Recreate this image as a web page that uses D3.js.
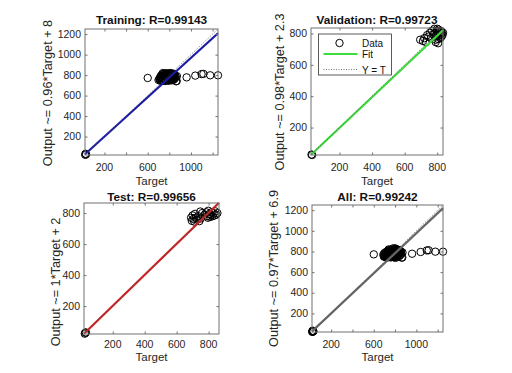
<!DOCTYPE html>
<html>
<head>
<meta charset="utf-8">
<script src="https://cdn.jsdelivr.net/npm/d3@7"></script>
<style>
  body { margin: 0; background: #fff; }
  svg { display: block; font-family: "Liberation Sans", Arial, sans-serif; }
</style>
</head>
<body>
<svg id="fig" width="512" height="373"></svg>
<script>
// panel texts and fit coefficients
var titles = ["Training: R=0.99143", "Validation: R=0.99723", "Test: R=0.99656", "All: R=0.99242"];
var yLabels = ["Output ~= 0.96*Target + 8", "Output ~= 0.98*Target + 2.3",
               "Output ~= 1*Target + 2", "Output ~= 0.97*Target + 6.9"];
var fitSlope = [0.96, 0.98, 1, 0.97];
var fitIntercept = [8, 2.3, 2, 6.9];
var limits = [[20, 1250], [25, 835], [20, 865], [20, 1250]];

// ticks
var bigTickLabelsX = [200, 600, 1000];
var bigTicks = [200, 400, 600, 800, 1000, 1200];
var smallTicks = [200, 400, 600, 800];

// training data (target, output)
var trainTarget = [22, 30, 25,
  712, 718, 720, 726, 731, 735, 740, 744, 748, 752, 755, 760, 763, 767, 771, 774, 778, 781, 785, 788,
  792, 795, 798, 802, 805, 808, 812, 815, 818, 821, 825, 828, 832, 835, 838, 842, 845, 848, 851, 855,
  724, 738, 746, 757, 769, 783, 796, 810, 823, 836, 716, 729, 750, 765, 790, 800, 817, 830, 843, 860,
  708, 862, 740, 775, 700, 868,
  600, 870, 960, 1040, 1098, 1115, 1178, 1250];
var trainOutput = [22, 26, 32,
  768, 745, 790, 758, 805, 775, 748, 792, 762, 815, 780, 742, 800, 768, 788, 752, 812, 775, 795, 745,
  765, 805, 782, 818, 755, 792, 770, 808, 748, 785, 800, 762, 815, 778, 795, 758, 810, 782, 768, 795,
  775, 765, 808, 795, 815, 760, 748, 820, 772, 755, 780, 742, 778, 785, 778, 795, 792, 785, 800, 780,
  760, 740, 820, 818, 752, 742,
  772, 790, 778, 795, 810, 812, 798, 798];

// validation data
var valTarget = [28, 32,
  695, 712, 720, 730, 738, 745, 755, 760, 768, 775, 782, 788, 792, 798, 803, 808, 812, 816,
  820, 824, 828, 832, 826, 818, 805, 790, 835, 810, 800, 805, 790];
var valOutput = [28, 25,
  760, 752, 770, 745, 790, 780, 805, 770, 818, 795, 830, 805, 785, 815, 800, 825, 790, 808,
  795, 815, 802, 790, 780, 770, 765, 760, 805, 812, 830, 738, 745];

// test data
var testTarget = [28, 25, 32,
  690, 695, 700, 705, 710, 715, 720, 728, 735, 742, 750, 748, 760,
  775, 785, 792, 798, 805, 812, 818, 825, 832, 840, 848, 855, 838, 810, 795];
var testOutput = [28, 22, 30,
  770, 750, 785, 762, 745, 795, 770, 758, 780, 748, 765, 810, 800,
  790, 805, 780, 815, 795, 788, 805, 780, 798, 812, 790, 800, 785, 775, 770];

function pairs(t, o) { return t.map(function (d, i) { return { t: d, o: o[i] }; }); }

var datasets = [
  pairs(trainTarget, trainOutput),
  pairs(valTarget, valOutput),
  pairs(testTarget, testOutput),
  pairs(trainTarget.concat(valTarget, testTarget), trainOutput.concat(valOutput, testOutput))
];

// layout per panel
var boxes = [
  { x0: 85, x1: 218, y0: 29, y1: 155, ylx: 48, yly: 93, row: 0 },
  { x0: 311, x1: 443, y0: 28, y1: 155, ylx: 280, yly: 92, row: 0 },
  { x0: 84, x1: 219, y0: 203, y1: 334, ylx: 55.5, yly: 282, row: 1 },
  { x0: 312, x1: 443, y0: 205, y1: 332, ylx: 274, yly: 268.5, row: 1 }
];
var fitColors = ["#1a1aa6", "#3ddc3d", "#cc2222", "#666666"];
var rowText = [
  { title: 23.5, tick: 171, xlab: 185 },
  { title: 200.5, tick: 347.5, xlab: 361 }
];

var svg = d3.select("#fig");

function drawPanel(i) {
  var b = boxes[i], lim = limits[i], rt = rowText[b.row],
      big = lim[1] > 1000;

  var x = d3.scaleLinear().domain(lim).range([b.x0, b.x1]),
      y = d3.scaleLinear().domain(lim).range([b.y1, b.y0]);

  var g = svg.append("g");

  // data circles
  g.selectAll("circle").data(datasets[i]).enter()
   .append("circle")
   .attr("cx", function (d) { return x(d.t); })
   .attr("cy", function (d) { return y(d.o); })
   .attr("r", 3.7)
   .attr("fill", "none")
   .attr("stroke", "#000")
   .attr("stroke-width", 1);

  // fit line
  g.append("line")
   .attr("x1", x(lim[0])).attr("y1", y(fitSlope[i] * lim[0] + fitIntercept[i]))
   .attr("x2", x(lim[1])).attr("y2", y(fitSlope[i] * lim[1] + fitIntercept[i]))
   .attr("stroke", fitColors[i])
   .attr("stroke-width", 2.2);

  // Y = T line
  g.append("line")
   .attr("x1", x(lim[0])).attr("y1", y(lim[0]))
   .attr("x2", x(lim[1])).attr("y2", y(lim[1]))
   .attr("stroke", "#555")
   .attr("stroke-width", 0.8)
   .attr("stroke-dasharray", "1,1.5");

  // box
  g.append("rect")
   .attr("x", b.x0).attr("y", b.y0)
   .attr("width", b.x1 - b.x0).attr("height", b.y1 - b.y0)
   .attr("fill", "none").attr("stroke", "#707070").attr("stroke-width", 1);

  var ticks = big ? bigTicks : smallTicks,
      xLabels = big ? bigTickLabelsX : smallTicks;

  // inward ticks on all four sides
  g.append("g").attr("transform", "translate(0," + b.y1 + ")").call(d3.axisBottom(x).tickValues(ticks).tickSize(-2.5).tickFormat(""));
  g.append("g").attr("transform", "translate(0," + b.y0 + ")").call(d3.axisTop(x).tickValues(ticks).tickSize(-2.5).tickFormat(""));
  g.append("g").attr("transform", "translate(" + b.x0 + ",0)").call(d3.axisLeft(y).tickValues(ticks).tickSize(-2.5).tickFormat(""));
  g.append("g").attr("transform", "translate(" + b.x1 + ",0)").call(d3.axisRight(y).tickValues(ticks).tickSize(-2.5).tickFormat(""));
  g.selectAll(".domain").remove();
  g.selectAll(".tick line").attr("stroke", "#707070");

  // tick labels
  g.selectAll("text.xtl").data(xLabels).enter()
   .append("text").attr("class", "xtl")
   .attr("x", function (d) { return x(d); })
   .attr("y", rt.tick)
   .attr("text-anchor", "middle")
   .attr("font-size", 10.5).attr("fill", "#262626")
   .text(function (d) { return d; });

  g.selectAll("text.ytl").data(ticks).enter()
   .append("text").attr("class", "ytl")
   .attr("x", b.x0 - 4)
   .attr("y", function (d) { return y(d) + 3.7; })
   .attr("text-anchor", "end")
   .attr("font-size", 10.5).attr("fill", "#262626")
   .text(function (d) { return d; });

  // title
  g.append("text")
   .attr("x", (b.x0 + b.x1) / 2).attr("y", rt.title)
   .attr("text-anchor", "middle")
   .attr("font-size", 11.8).attr("font-weight", "bold").attr("fill", "#111")
   .text(titles[i]);

  // x label
  g.append("text")
   .attr("x", (b.x0 + b.x1) / 2).attr("y", rt.xlab)
   .attr("text-anchor", "middle")
   .attr("font-size", 11.5).attr("fill", "#262626")
   .text("Target");

  // y label
  g.append("text")
   .attr("transform", "translate(" + (b.ylx + 4.3) + "," + b.yly + ") rotate(-90)")
   .attr("text-anchor", "middle")
   .attr("font-size", 12.7).attr("fill", "#262626")
   .text(yLabels[i]);
}

[0, 1, 2, 3].forEach(drawPanel);

// legend in validation panel
var leg = svg.append("g");
leg.append("rect")
   .attr("x", 318.5).attr("y", 34).attr("width", 73).attr("height", 41)
   .attr("fill", "#fff").attr("stroke", "#333").attr("stroke-width", 0.8);
leg.append("circle").attr("cx", 339.5).attr("cy", 43).attr("r", 3.7)
   .attr("fill", "none").attr("stroke", "#000");
leg.append("line").attr("x1", 323.5).attr("x2", 357.5).attr("y1", 54).attr("y2", 54)
   .attr("stroke", fitColors[1]).attr("stroke-width", 2.2);
leg.append("line").attr("x1", 323.5).attr("x2", 357.5).attr("y1", 69.5).attr("y2", 69.5)
   .attr("stroke", "#555").attr("stroke-width", 0.8).attr("stroke-dasharray", "1,1.5");
leg.selectAll("text").data(["Data", "Fit", "Y = T"]).enter()
   .append("text")
   .attr("x", 362)
   .attr("y", function (d, k) { return [46.5, 58, 73.5][k]; })
   .attr("font-size", 10).attr("fill", "#111")
   .text(function (d) { return d; });
</script>
</body>
</html>
